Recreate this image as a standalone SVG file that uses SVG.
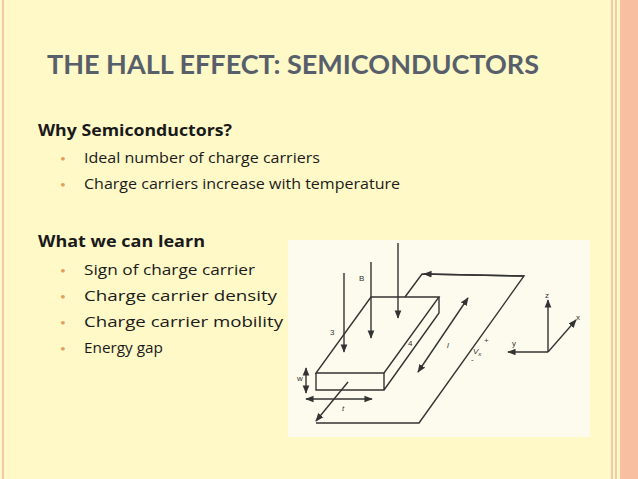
<svg xmlns="http://www.w3.org/2000/svg" width="638" height="479" viewBox="0 0 638 479">
<defs>
<style>
.t{font-family:"Open Sans",Lato,sans-serif;fill:#1a1a1a}
.b{fill:#e0a060;font-family:Lato,sans-serif;font-size:10px}
.f{stroke:#333;stroke-width:1.4;fill:none}
.s{font-family:"Liberation Sans",sans-serif;font-size:8px;fill:#333}
</style>
<marker id="a" viewBox="0 0 10 10" refX="9" refY="5" markerWidth="6" markerHeight="6" orient="auto-start-reverse"><path d="M0,1 L10,5 L0,9 z" fill="#333"/></marker>
</defs>
<rect width="638" height="479" fill="#fff9c8"/>
<rect x="620" y="0" width="18" height="479" fill="#f8c0a0"/>
<line x1="3" y1="0" x2="3" y2="479" stroke="#f0b8a0" stroke-width="1.5"/>
<line x1="612" y1="0" x2="612" y2="479" stroke="#f0b8a0" stroke-width="1.5"/>
<line x1="616" y1="0" x2="616" y2="479" stroke="#f0b8a0" stroke-width="1.5"/>
<text x="47" y="74" font-family="Lato,sans-serif" font-weight="bold" font-size="26" fill="#575f6a" textLength="492" lengthAdjust="spacingAndGlyphs">THE HALL EFFECT: SEMICONDUCTORS</text>
<text class="t" x="38" y="136" font-size="16" font-weight="bold" textLength="194" lengthAdjust="spacingAndGlyphs">Why Semiconductors?</text>
<text class="b" x="60" y="162">•</text><text class="t" x="84" y="163" font-size="14.5" textLength="236" lengthAdjust="spacingAndGlyphs">Ideal number of charge carriers</text>
<text class="b" x="60" y="188">•</text><text class="t" x="84" y="189" font-size="14.5" textLength="316" lengthAdjust="spacingAndGlyphs">Charge carriers increase with temperature</text>
<text class="t" x="38" y="247" font-size="16" font-weight="bold" textLength="167" lengthAdjust="spacingAndGlyphs">What we can learn</text>
<text class="b" x="60" y="274">•</text><text class="t" x="84" y="275" font-size="14.5" textLength="171" lengthAdjust="spacingAndGlyphs">Sign of charge carrier</text>
<text class="b" x="60" y="300">•</text><text class="t" x="84" y="301" font-size="14.5" textLength="193" lengthAdjust="spacingAndGlyphs">Charge carrier density</text>
<text class="b" x="60" y="326">•</text><text class="t" x="84" y="327" font-size="14.5" textLength="199" lengthAdjust="spacingAndGlyphs">Charge carrier mobility</text>
<text class="b" x="60" y="352">•</text><text class="t" x="84" y="353" font-size="14.5" textLength="79" lengthAdjust="spacingAndGlyphs">Energy gap</text>
<g id="figure">
<rect x="288" y="240" width="302" height="197" fill="#fdfbee"/>
<g id="block" class="f">
<path d="M371,297 L439,297 L384,373 L316,373 Z"/>
<path d="M316,373 L316,390 L384,390 L384,373 M384,390 L439,313 L439,297"/>
</g>
<g id="connectors" class="f">
<path d="M405,297 L422,274 L524,276 L419,423 L316,423"/>
<line x1="524" y1="276" x2="424" y2="274" marker-end="url(#a)"/>
<line x1="348" y1="382" x2="316" y2="421" marker-end="url(#a)"/>
<line x1="344" y1="273" x2="344" y2="352" marker-end="url(#a)"/>
<line x1="371" y1="262" x2="371" y2="338" marker-end="url(#a)"/>
<line x1="398" y1="243" x2="398" y2="318" marker-end="url(#a)"/>
<line x1="468" y1="298" x2="418" y2="372" marker-start="url(#a)" marker-end="url(#a)"/>
<line x1="306" y1="368" x2="306" y2="393" marker-start="url(#a)" marker-end="url(#a)"/>
<line x1="306" y1="399" x2="372" y2="399" marker-start="url(#a)" marker-end="url(#a)"/>
<line x1="548" y1="352" x2="548" y2="300" marker-end="url(#a)"/>
<line x1="548" y1="352" x2="508" y2="352" marker-end="url(#a)"/>
<line x1="548" y1="352" x2="576" y2="320" marker-end="url(#a)"/>
</g>
<text class="s" x="359" y="281">B</text>
<text class="s" x="330" y="335">3</text>
<text class="s" x="408" y="346">4</text>
<text class="s" x="447" y="348" font-style="italic">l</text>
<text class="s" x="473" y="354" font-style="italic">V<tspan font-size="6" dy="2">x</tspan></text>
<text class="s" x="484" y="343">+</text>
<text class="s" x="471" y="362">-</text>
<text class="s" x="297" y="381" font-size="7">w</text>
<text class="s" x="342" y="411" font-style="italic">t</text>
<text class="s" x="545" y="298" font-size="7">z</text>
<text class="s" x="512" y="346" font-size="7">y</text>
<text class="s" x="576" y="320" font-size="7">x</text>
</g>
</svg>
